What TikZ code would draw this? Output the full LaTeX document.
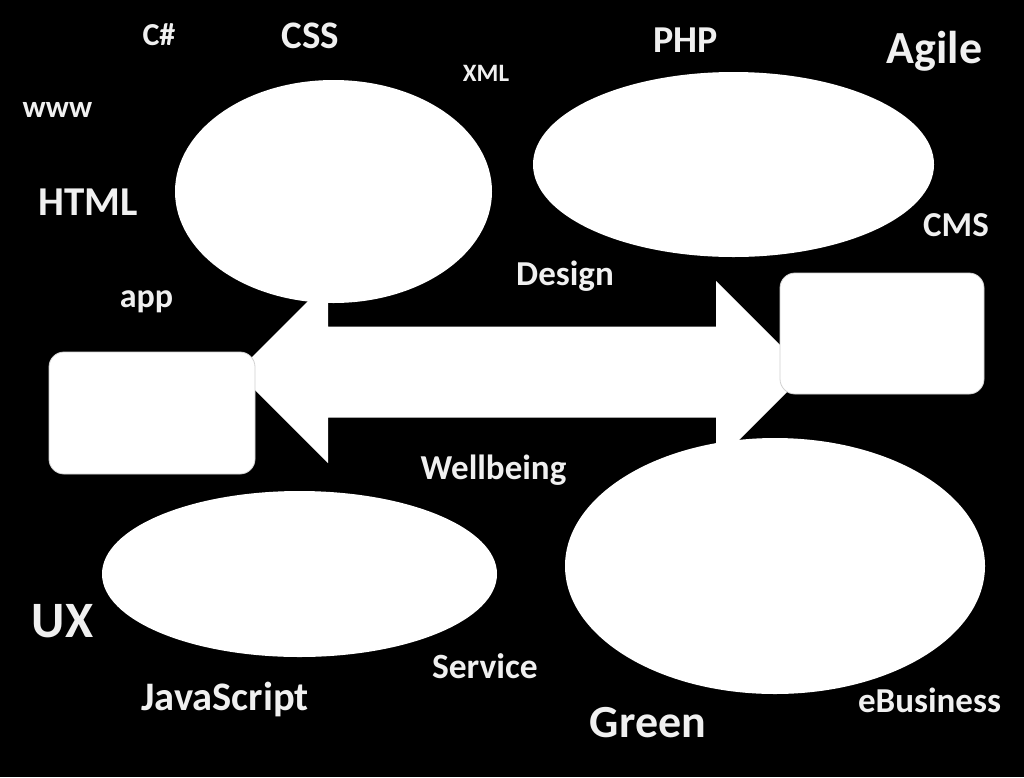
\documentclass[tikz,border=0pt]{standalone}
\usepackage{fontspec}
\setmainfont{Carlito}
\usetikzlibrary{shapes.geometric}

\begin{document}
\begin{tikzpicture}[
    x=1pt, y=-1pt,
    blob/.style ={ellipse, fill=white, inner sep=0pt},
    card/.style ={rounded corners=15pt, fill=white, draw=white!82!black,
                  line width=0.8pt, inner sep=0pt},
    word/.style ={text=white!94!black, anchor=base, inner sep=0pt,
                  font=\bfseries\fontsize{#1}{#1}\selectfont},
]
\fill[black] (0,0) rectangle (1024,777);
% block arrow between the two cards
\fill[white] (237,372) -- (328,281) -- (328,326.5) -- (716,326.5) -- (716,281)
   -- (807,372) -- (716,463) -- (716,417.5) -- (328,417.5) -- (328,463) -- cycle;
\node[blob, minimum width=317, minimum height=223] (css)   at (333.5,191.5) {};
\node[blob, minimum width=401, minimum height=185] (php)   at (733.5,164.5) {};
\node[blob, minimum width=395, minimum height=166] (ux)    at (299.5,574) {};
\node[blob, minimum width=420, minimum height=256] (green) at (775,566) {};
\node[card, minimum width=206, minimum height=122] (lcard) at (152,413) {};
\node[card, minimum width=204, minimum height=121] (rcard) at (882,333.5) {};
% words
\node[word=32] (csharp) at (159,45)    {C\#};
\node[word=39] (wcss)   at (310.5,48)  {CSS};
\node[word=25] (xml)    at (486,81)    {XML};
\node[word=31] (www)    at (57.5,117)  {www};
\node[word=41] (html)   at (88.5,215)  {HTML};
\node[word=34] (app)    at (146.5,307) {app};
\node[word=38] (wphp)   at (685.5,52)  {PHP};
\node[word=46] (agile)  at (934.5,63)  {Agile};
\node[word=35] (cms)    at (956,236)   {CMS};
\node[word=35] (design) at (565,285)   {Design};
\node[word=35] (wellb)  at (493.5,479) {Wellbeing};
\node[word=51] (wux)    at (62.5,637)  {UX};
\node[word=40.5] (js)   at (225,710)   {JavaScript};
\node[word=35.5] (serv) at (485,678)   {Service};
\node[word=46] (wgreen) at (648,737)   {Green};
\node[word=35] (ebiz)   at (929.5,712) {eBusiness};
\end{tikzpicture}
\end{document}
